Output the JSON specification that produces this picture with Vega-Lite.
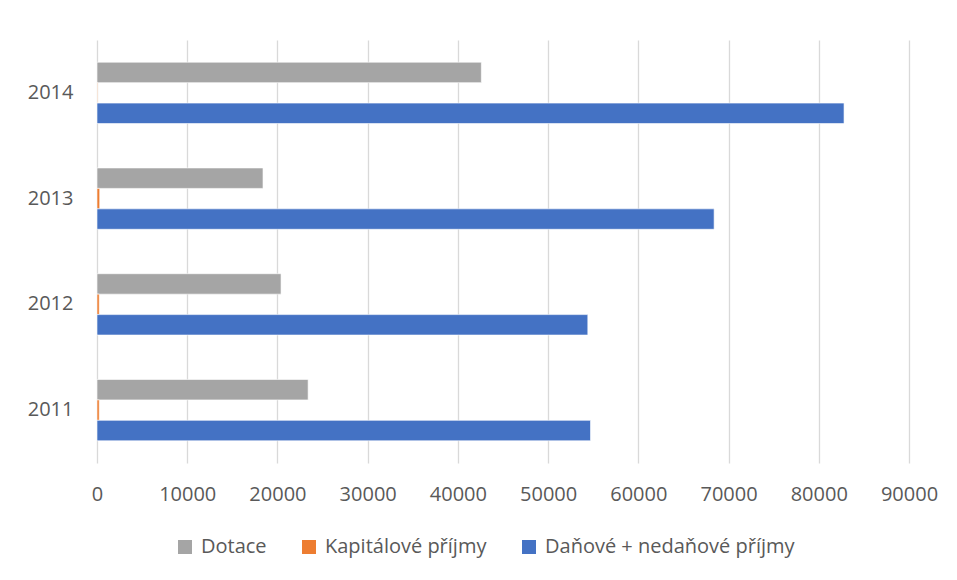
{
  "$schema": "https://vega.github.io/schema/vega-lite/v6.json",
  "autosize": "none",
  "width": 812,
  "height": 423,
  "padding": {"left": 97, "top": 40, "right": 48, "bottom": 117},
  "background": "white",
  "config": {
    "font": "Open Sans",
    "view": {"stroke": null},
    "axis": {"labelFont": "Open Sans", "labelColor": "#595959", "labelFontSize": 20},
    "legend": {"labelFont": "Open Sans", "labelColor": "#595959", "labelFontSize": 20}
  },
  "data": {
    "values": [
      {"rok": "2011", "serie": "Dotace", "hodnota": 23400},
      {"rok": "2011", "serie": "Kapitálové příjmy", "hodnota": 250},
      {"rok": "2011", "serie": "Daňové + nedaňové příjmy", "hodnota": 54700},
      {"rok": "2012", "serie": "Dotace", "hodnota": 20400},
      {"rok": "2012", "serie": "Kapitálové příjmy", "hodnota": 250},
      {"rok": "2012", "serie": "Daňové + nedaňové příjmy", "hodnota": 54400},
      {"rok": "2013", "serie": "Dotace", "hodnota": 18400},
      {"rok": "2013", "serie": "Kapitálové příjmy", "hodnota": 300},
      {"rok": "2013", "serie": "Daňové + nedaňové příjmy", "hodnota": 68400},
      {"rok": "2014", "serie": "Dotace", "hodnota": 42600},
      {"rok": "2014", "serie": "Kapitálové příjmy", "hodnota": 60},
      {"rok": "2014", "serie": "Daňové + nedaňové příjmy", "hodnota": 82800}
    ]
  },
  "mark": {"type": "bar", "stroke": "white", "strokeWidth": 0.6},
  "encoding": {
    "y": {
      "field": "rok",
      "type": "nominal",
      "sort": "descending",
      "scale": {"paddingInner": 0.42, "paddingOuter": 0.21},
      "axis": {"title": null, "domain": false, "ticks": false, "grid": false, "labelPadding": 24}
    },
    "yOffset": {
      "field": "serie",
      "type": "nominal",
      "sort": ["Dotace", "Kapitálové příjmy", "Daňové + nedaňové příjmy"],
      "scale": {"paddingInner": 0, "paddingOuter": 0}
    },
    "x": {
      "field": "hodnota",
      "type": "quantitative",
      "scale": {"domain": [0, 90000], "nice": false},
      "axis": {
        "title": null,
        "domain": false,
        "ticks": false,
        "values": [0, 10000, 20000, 30000, 40000, 50000, 60000, 70000, 80000, 90000],
        "format": "d",
        "labelFlush": false,
        "labelOverlap": false,
        "gridColor": "#D9D9D9",
        "gridWidth": 1.3,
        "labelPadding": 21
      }
    },
    "color": {
      "field": "serie",
      "type": "nominal",
      "sort": ["Dotace", "Kapitálové příjmy", "Daňové + nedaňové příjmy"],
      "scale": {
        "domain": ["Dotace", "Kapitálové příjmy", "Daňové + nedaňové příjmy"],
        "range": ["#A5A5A5", "#ED7D31", "#4472C4"]
      },
      "legend": {
        "title": null,
        "orient": "none",
        "direction": "horizontal",
        "columns": 3,
        "legendX": 78,
        "legendY": 497,
        "symbolType": "square",
        "symbolSize": 196,
        "symbolStrokeWidth": 0,
        "symbolOpacity": 1,
        "labelOffset": 6,
        "labelLimit": 0,
        "columnPadding": 32
      }
    }
  }
}
